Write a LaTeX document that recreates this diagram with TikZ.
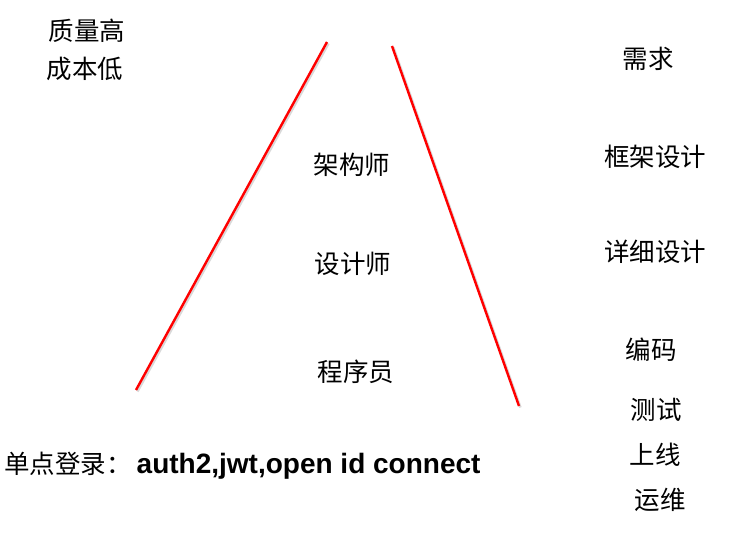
\documentclass[tikz,border=0pt]{standalone}
\usepackage{fontspec}
\setmainfont{Liberation Sans}
\newfontfamily\cjk{Noto Sans CJK SC}
\usetikzlibrary{calc}

\tikzset{
  word/.style={font=\cjk\fontsize{25.5}{28}\selectfont, inner sep=0pt},
  redline/.style={color=red, line width=2.4pt}
}

\begin{document}
\begin{tikzpicture}[x=1pt, y=-1pt]
  \useasboundingbox (0,0) rectangle (753,542);
  \fill[white] (0,0) rectangle (753,542);
  % shadow + lines
  \draw[color=black!15, line width=2.4pt] (137.5,391.5) -- (328.5,43.5);
  \draw[color=black!15, line width=2.4pt] (393.5,47.5) -- (520.5,407.5);
  \draw[redline] (136,390) -- (327,42);
  \draw[redline] (392,46) -- (519,406);
  % left top
  \node[word] (quality) at (87,31) {质量高};
  \node[word] (cost) at (85,69) {成本低};
  % roles
  \node[word] (arch) at (352,165) {架构师};
  \node[word] (designer) at (353,264) {设计师};
  \node[word] (coder) at (356,372) {程序员};
  % phases
  \node[word] (req) at (648,59) {需求};
  \node[word] (frame) at (655,157) {框架设计};
  \node[word] (detail) at (655,252) {详细设计};
  \node[word] (code) at (651,350) {编码};
  \node[word] (test) at (656,410) {测试};
  \node[word] (online) at (655,455) {上线};
  \node[word] (ops) at (660,500) {运维};
  % bottom
  \node[word, anchor=west] (sso) at (4,466) {单点登录：\hspace{5pt}{\fontspec{Liberation Sans}\fontsize{28}{30}\selectfont\bfseries auth2,jwt,open id connect}};
\end{tikzpicture}
\end{document}
